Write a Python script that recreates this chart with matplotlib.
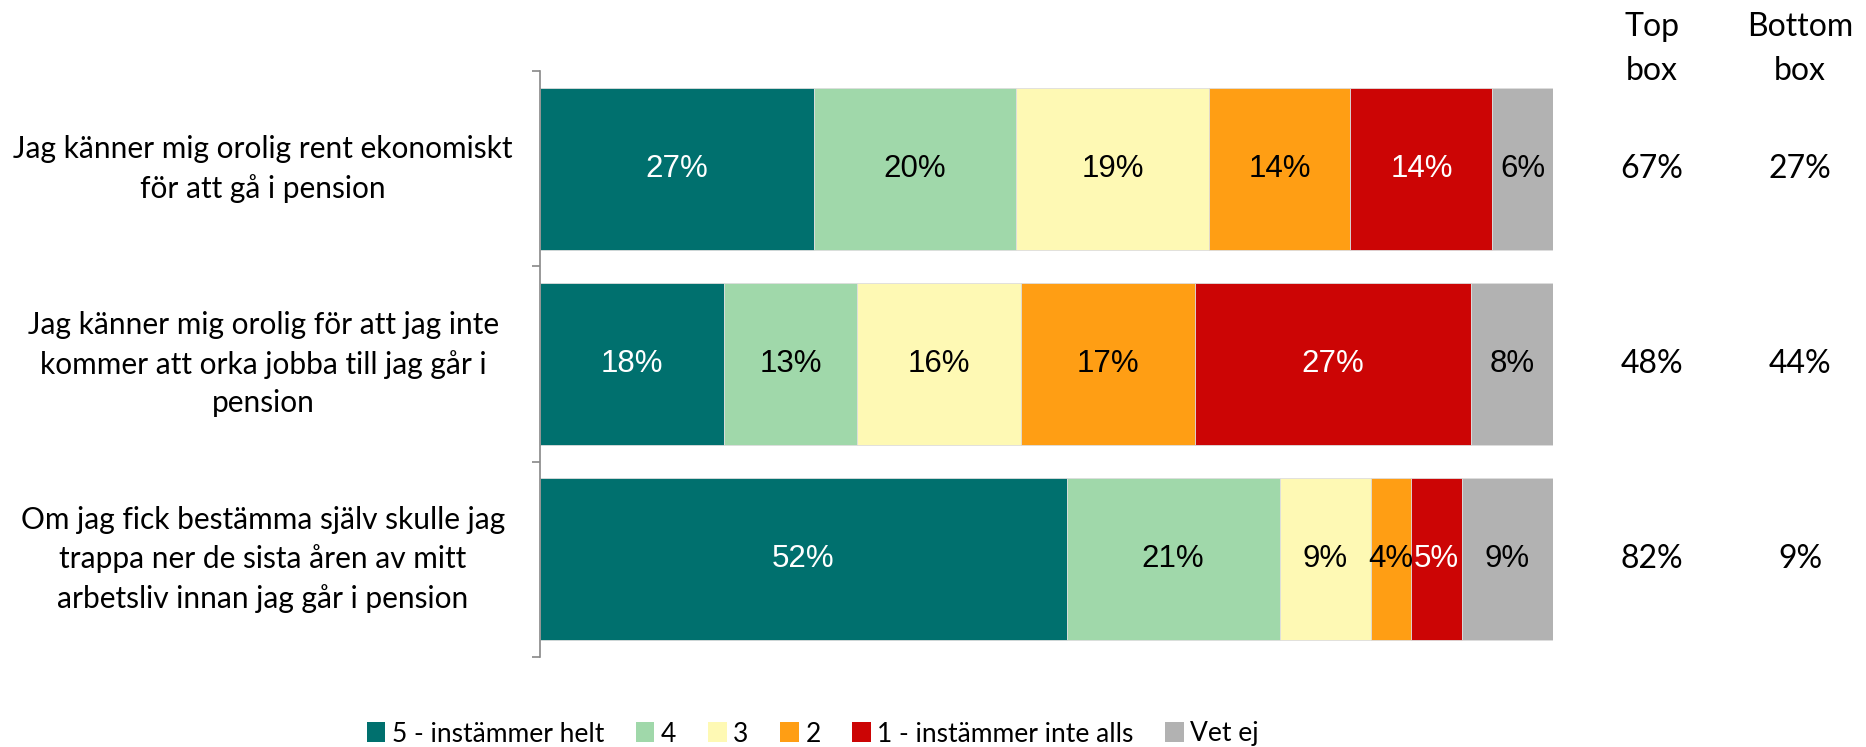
import matplotlib.pyplot as plt
from matplotlib.patches import Patch
from matplotlib.transforms import blended_transform_factory

# data
questions = [
    "Jag känner mig orolig rent ekonomiskt\nför att gå i pension",
    "Jag känner mig orolig för att jag inte\nkommer att orka jobba till jag går i\npension",
    "Om jag fick bestämma själv skulle jag\ntrappa ner de sista åren av mitt\narbetsliv innan jag går i pension",
]
series = ["5 - instämmer helt", "4", "3", "2", "1 - instämmer inte alls", "Vet ej"]
values = [
    [27, 20, 19, 14, 14, 6],
    [18, 13, 16, 17, 27, 8],
    [52, 21, 9, 4, 5, 9],
]
top_box = [67, 48, 82]
bottom_box = [27, 44, 9]

colors = ["#00706E", "#A0D8AA", "#FEF9B4", "#FF9E14", "#CC0505", "#B2B2B2"]
text_colors = ["white", "black", "black", "black", "white", "black"]

side_font = "Lato"

fig = plt.figure(figsize=(18.66, 7.47), dpi=100)
ax = fig.add_axes([0.2894, 0.1205, 0.8323 - 0.2894, 0.905 - 0.1205])

for i, row in enumerate(values):
    total = sum(row)
    left = 0
    for j, v in enumerate(row):
        w = v / total * 100
        ax.barh(i, w, left=left, height=0.83, color=colors[j],
                edgecolor="#dddddd", linewidth=0.6)
        ax.text(left + w / 2, i, f"{v}%", ha="center", va="center",
                fontsize=22.5, color=text_colors[j], family="Liberation Sans")
        left += w

ax.set_xlim(0, 100)
ax.set_ylim(2.5, -0.5)
ax.set_xticks([])
ax.set_yticks([-0.5, 0.5, 1.5, 2.5])
ax.set_yticklabels([])
ax.tick_params(axis="y", direction="out", length=6, width=1.2, color="#888888")
for s in ["top", "right", "bottom"]:
    ax.spines[s].set_visible(False)
ax.spines["left"].set_color("#888888")
ax.spines["left"].set_linewidth(1.2)

# category labels
tr = blended_transform_factory(fig.transFigure, ax.transData)
for i, q in enumerate(questions):
    ax.text(0.141, i, q, transform=tr, ha="center", va="center",
            multialignment="center", fontsize=21.5, family=side_font,
            linespacing=1.45)

# top / bottom box columns
col_x = [1652 / 1866, 1800 / 1866]
fig.text(col_x[0], 1 - 49 / 747, "Top\nbox", ha="center", va="center",
         fontsize=23, family=side_font, linespacing=1.55)
fig.text(col_x[1], 1 - 49 / 747, "Bottom\nbox", ha="center", va="center",
         fontsize=23, family=side_font, linespacing=1.55)
for i in range(len(questions)):
    ax.text(col_x[0], i, f"{top_box[i]}%", transform=tr, ha="center",
            va="center", fontsize=23, family=side_font)
    ax.text(col_x[1], i, f"{bottom_box[i]}%", transform=tr, ha="center",
            va="center", fontsize=23, family=side_font)

handles = [Patch(facecolor=c, edgecolor="none") for c in colors]
fig.legend(handles, series, loc="center", bbox_to_anchor=(813 / 1866, 1 - 734 / 747),
           ncol=6, frameon=False, handlelength=0.7, handleheight=0.8,
           handletextpad=0.25, columnspacing=1.2,
           prop={"family": side_font, "size": 19})

fig.savefig("out.png", dpi=100)
